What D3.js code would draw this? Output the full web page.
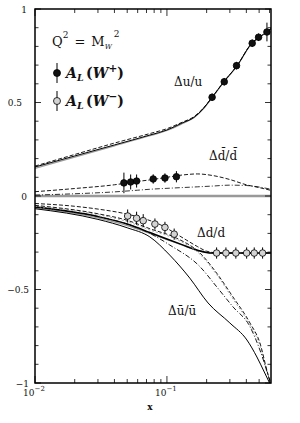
<!DOCTYPE html>
<html><head><meta charset="utf-8">
<script src="https://cdn.jsdelivr.net/npm/d3@7"></script>
<style>
body{margin:0;background:#fff;}
svg{display:block;}
text{font-family:"DejaVu Serif","Liberation Serif",serif;fill:#111;}
</style></head>
<body><svg id="c" width="300" height="423"></svg>
<script>
// ---- data ----
const wPlusX   = [0.0472,0.0531,0.0589,0.0787,0.0966,0.118,0.220,0.272,0.337,0.443,0.495,0.573];
const wPlusY   = [0.070,0.075,0.080,0.091,0.096,0.103,0.528,0.611,0.697,0.817,0.849,0.877];
const wPlusErr = [0.055,0.040,0.035,0.025,0.025,0.030,0.020,0.020,0.020,0.020,0.020,0.050];
const wMinusX   = [0.0504,0.0589,0.0661,0.0811,0.0966,0.1135,0.238,0.280,0.333,0.402,0.459,0.531];
const wMinusY   = [-0.107,-0.119,-0.132,-0.150,-0.168,-0.204,-0.305,-0.305,-0.305,-0.305,-0.305,-0.305];
const wMinusErr = [0.035,0.035,0.035,0.030,0.030,0.030,0.030,0.030,0.030,0.030,0.030,0.030];

// curves: x, y pairs
const duX      = [0.01,0.02,0.04,0.0743,0.1,0.13,0.16,0.19,0.22,0.27,0.34,0.44,0.5,0.58,0.615];
const duSolid  = [0.155,0.214,0.273,0.326,0.353,0.39,0.42,0.47,0.528,0.611,0.697,0.817,0.849,0.88,0.895];
const duDash   = [0.16,0.222,0.283,0.334,0.36,0.394,0.424,0.472,0.528,0.611,0.697,0.817,0.849,0.88,0.895];
const duGray   = [0.148,0.208,0.268,0.322,0.35,0.386,0.418,0.468,0.526,0.609,0.695,0.815,0.848,0.879,0.894];

const dbX      = [0.01,0.02,0.04,0.06,0.0743,0.1,0.13,0.17,0.22,0.3,0.4,0.5,0.615];
const dbDash   = [0.023,0.04,0.06,0.078,0.086,0.1,0.112,0.118,0.11,0.088,0.06,0.045,0.03];
const dbDot    = [0.005,0.012,0.022,0.031,0.036,0.041,0.045,0.049,0.053,0.058,0.056,0.048,0.036];

const ddX      = [0.01,0.02,0.03,0.05,0.07,0.09,0.11,0.14,0.17,0.2,0.25,0.615];
const ddDash   = [-0.04,-0.055,-0.07,-0.097,-0.125,-0.155,-0.19,-0.235,-0.27,-0.295,-0.305,-0.305];
const ddSolidX = [0.01,0.03,0.05,0.0743,0.1,0.13,0.17,0.22,0.615];
const ddSolid  = [-0.058,-0.11,-0.15,-0.195,-0.23,-0.26,-0.29,-0.305,-0.305];
const ddGray   = [-0.064,-0.117,-0.158,-0.2,-0.233,-0.262,-0.29,-0.305,-0.305];

const ubSolidX = [0.01,0.03,0.05,0.0743,0.105,0.149,0.205,0.3,0.404,0.481,0.552,0.6];
const ubSolid  = [-0.068,-0.125,-0.17,-0.219,-0.316,-0.439,-0.572,-0.679,-0.77,-0.861,-0.947,-1.0];
const ubDotX   = [0.01,0.03,0.05,0.0743,0.105,0.178,0.238,0.316,0.426,0.507,0.6];
const ubDot    = [-0.06,-0.11,-0.15,-0.2,-0.262,-0.378,-0.485,-0.592,-0.699,-0.824,-0.984];
const ubDashX  = [0.01,0.03,0.05,0.0743,0.118,0.178,0.238,0.316,0.426,0.507,0.58,0.612];
const ubDash   = [-0.05,-0.095,-0.13,-0.175,-0.225,-0.305,-0.412,-0.539,-0.679,-0.786,-0.947,-1.0];
const ubGray   = [-0.055,-0.1,-0.137,-0.182,-0.232,-0.312,-0.42,-0.55,-0.69,-0.8,-0.955,-1.0];

const yTicks = [-1,-0.5,0,0.5,1];
const yTickLabels = ["\u22121","\u22120.5","0","0.5","1"];

// ---- drawing ----
const svg = d3.select("#c");
const x = d3.scaleLog().domain([0.01,0.615]).range([35,271]);
const y = d3.scaleLinear().domain([-1,1]).range([383,9]);

svg.append("clipPath").attr("id","cp").append("rect")
  .attr("x",35).attr("y",9).attr("width",236).attr("height",374);
const g = svg.append("g").attr("clip-path","url(#cp)");

// zero line
g.append("line").attr("x1",x(0.01)).attr("x2",x(0.615)).attr("y1",y(0)).attr("y2",y(0))
  .attr("stroke","#999").attr("stroke-width",2.5);

const line = d3.line().x(d=>x(d[0])).y(d=>y(d[1])).curve(d3.curveMonotoneX);
function curve(xs, ys, opt){
  g.append("path").datum(xs.map((v,i)=>[v,ys[i]]))
   .attr("d",line).attr("fill","none")
   .attr("stroke",opt.color||"#000").attr("stroke-width",opt.w||1)
   .attr("stroke-dasharray",opt.dash||null);
}
const DASH="4,2", DOT="5,2,1,2";
curve(duX,duGray,{color:"#999",w:1.2});
curve(duX,duSolid,{w:1});
curve(duX,duDash,{dash:DASH,w:0.9});
curve(dbX,dbDash,{dash:DASH,w:0.9});
curve(dbX,dbDot,{dash:DOT,w:0.8});
curve(ddSolidX,ddGray,{color:"#999",w:1.3});
curve(ddX,ddDash,{dash:DASH,w:0.9});
curve(ddSolidX,ddSolid,{w:1.5});
curve(ubDashX,ubGray,{color:"#aaa",w:1,dash:"2,2"});
curve(ubSolidX,ubSolid,{w:1});
curve(ubDotX,ubDot,{dash:DOT,w:0.9});
curve(ubDashX,ubDash,{dash:DASH,w:0.9});

// points
function points(xs, ys, es, fill){
  const pg = g.append("g");
  xs.forEach((v,i)=>{
    pg.append("line").attr("x1",x(v)).attr("x2",x(v))
      .attr("y1",y(ys[i]-es[i])).attr("y2",y(ys[i]+es[i]))
      .attr("stroke","#000").attr("stroke-width",1);
    pg.append("circle").attr("cx",x(v)).attr("cy",y(ys[i])).attr("r",3.3)
      .attr("fill",fill).attr("stroke","#000").attr("stroke-width",0.8);
  });
}
points(wPlusX,wPlusY,wPlusErr,"#111");
points(wMinusX,wMinusY,wMinusErr,"#d4d4d4");

// frame
svg.append("rect").attr("x",35).attr("y",9).attr("width",236).attr("height",374)
  .attr("fill","none").attr("stroke","#000").attr("stroke-width",1.5);

// y ticks
const yMinor = d3.range(-10,11).map(k=>k/10);
yMinor.forEach(v=>{
  const major = Math.abs(v*2 - Math.round(v*2))<1e-6;
  const L = major?6:3.5;
  svg.append("line").attr("x1",35).attr("x2",35+L).attr("y1",y(v)).attr("y2",y(v)).attr("stroke","#000").attr("stroke-width",0.8);
  svg.append("line").attr("x1",271).attr("x2",271-L).attr("y1",y(v)).attr("y2",y(v)).attr("stroke","#000").attr("stroke-width",0.8);
});
const yLabelRight = [29,29,27,22,27];
yTicks.forEach((v,i)=>{
  svg.append("text").attr("x",yLabelRight[i]).attr("y",y(v)+3.5)
    .attr("text-anchor","end").attr("font-size",9).text(yTickLabels[i]);
});

// x ticks
const xMinor = [];
[0.01,0.1].forEach(dec=>{ for(let k=1;k<10;k++){ const v=dec*k; if(v<=0.615) xMinor.push(v);} });
xMinor.forEach(v=>{
  const major = Math.abs(Math.log10(v)-Math.round(Math.log10(v)))<1e-6;
  const L = major?7:4;
  svg.append("line").attr("x1",x(v)).attr("x2",x(v)).attr("y1",383).attr("y2",383-L).attr("stroke","#000").attr("stroke-width",0.8);
  svg.append("line").attr("x1",x(v)).attr("x2",x(v)).attr("y1",9).attr("y2",9+L).attr("stroke","#000").attr("stroke-width",0.8);
});
const xTickVals = [0.01,0.1];
const xTickExp = ["\u22122","\u22121"];
xTickVals.forEach((v,i)=>{
  const t = svg.append("text").attr("x",x(v)-1).attr("y",396).attr("text-anchor","middle").attr("font-size",9);
  t.append("tspan").text("10");
  t.append("tspan").attr("dy",-5).attr("font-size",7).text(xTickExp[i]);
});
svg.append("text").attr("x",150).attr("y",410).attr("text-anchor","middle")
  .attr("font-size",9).attr("font-weight","bold").text("x");

// legend
const q = svg.append("text").attr("x",52).attr("y",46).attr("font-size",13);
q.append("tspan").text("Q");
q.append("tspan").attr("dy",-8).attr("font-size",9).text("2");
q.append("tspan").attr("dy",8).attr("dx",6).text("=");
q.append("tspan").attr("dx",6).text("M");
q.append("tspan").attr("dy",3).attr("font-size",7).attr("font-style","italic").text("W");
q.append("tspan").attr("dy",-12).attr("dx",2).attr("font-size",9).text("2");

function legendItem(cy, fill, sign){
  svg.append("line").attr("x1",57).attr("x2",57).attr("y1",cy-10).attr("y2",cy+10).attr("stroke","#000").attr("stroke-width",1);
  svg.append("circle").attr("cx",57).attr("cy",cy).attr("r",3.5).attr("fill",fill).attr("stroke","#000").attr("stroke-width",0.8);
  const t = svg.append("text").attr("x",66).attr("y",cy+5).attr("font-size",14)
    .attr("font-style","italic").attr("font-weight","bold");
  t.append("tspan").text("A");
  t.append("tspan").attr("dy",3).attr("font-size",9.5).text("L");
  t.append("tspan").attr("dy",-3).attr("dx",2.5).attr("font-style","normal").text("(");
  t.append("tspan").text("W");
  t.append("tspan").attr("dy",-6).attr("font-size",10.5).attr("font-style","normal").text(sign);
  t.append("tspan").attr("dy",6).attr("font-style","normal").text(")");
}
legendItem(73,"#111","+");
legendItem(101,"#d4d4d4","\u2212");

// curve labels
function lab(xp, yp, txt){
  svg.append("text").attr("x",xp).attr("y",yp).attr("font-size",12).attr("fill","#333").text(txt);
}
lab(174,86,"\u0394u/u");
lab(209,160,"\u0394d\u0304/d\u0304");
lab(197,237,"\u0394d/d");
lab(168,315,"\u0394u\u0304/u\u0304");
</script></body></html>
